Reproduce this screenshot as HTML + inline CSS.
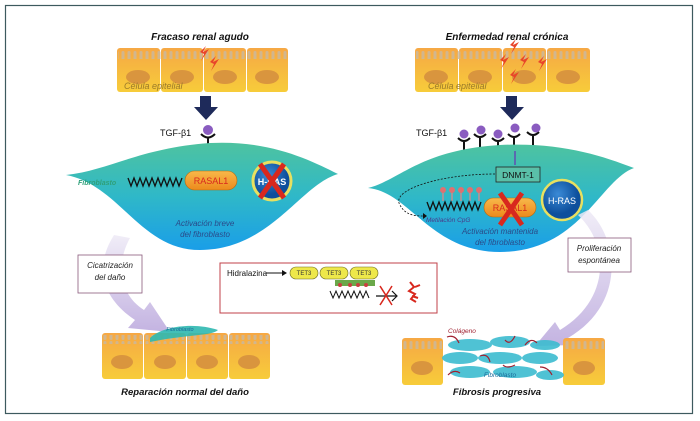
<!DOCTYPE html>
<html><head><meta charset="utf-8"><style>
html,body{margin:0;padding:0;background:#fff;}
svg{display:block;font-family:"Liberation Sans",sans-serif;}
</style></head><body>
<svg width="700" height="421" viewBox="0 0 700 421" xmlns="http://www.w3.org/2000/svg">
<defs>
<linearGradient id="cell" x1="0" y1="0" x2="0" y2="1"><stop offset="0" stop-color="#f6a845"/><stop offset="1" stop-color="#f7cc3a"/></linearGradient>
<linearGradient id="leaf" x1="0" y1="0" x2="0" y2="1"><stop offset="0" stop-color="#4ec3a0"/><stop offset="0.5" stop-color="#2fb8c8"/><stop offset="1" stop-color="#1a9ee8"/></linearGradient>
<linearGradient id="purp" x1="0" y1="0" x2="0" y2="1"><stop offset="0" stop-color="#eeeaf6"/><stop offset="1" stop-color="#b9a6dc"/></linearGradient>
<radialGradient id="hras" cx="0.4" cy="0.35"><stop offset="0" stop-color="#3a8ad6"/><stop offset="1" stop-color="#0d4f9c"/></radialGradient>
<linearGradient id="pill" x1="0" y1="0" x2="0" y2="1"><stop offset="0" stop-color="#f8b84a"/><stop offset="1" stop-color="#ec8a1c"/></linearGradient>
<pattern id="mv" x="0" y="0" width="6" height="10" patternUnits="userSpaceOnUse"><rect x="1.5" y="1" width="3" height="9" rx="1.5" fill="#c9b8a0"/></pattern>
</defs>
<rect x="5.5" y="5.5" width="687" height="408" fill="#fff" stroke="#3d5a5e" stroke-width="1.2"/>

<text x="200" y="40" font-size="10" font-weight="bold" font-style="italic" text-anchor="middle" fill="#111">Fracaso renal agudo</text>
<text x="507" y="40" font-size="10" font-weight="bold" font-style="italic" text-anchor="middle" fill="#111">Enfermedad renal crónica</text>

<!-- left epithelium -->
<g>
<rect x="117" y="48" width="43" height="44" rx="3" fill="url(#cell)"/>
<rect x="161" y="48" width="42" height="44" rx="3" fill="url(#cell)"/>
<rect x="204" y="48" width="42" height="44" rx="3" fill="url(#cell)"/>
<rect x="247" y="48" width="41" height="44" rx="3" fill="url(#cell)"/>
<rect x="118" y="50" width="169" height="9" fill="url(#mv)" opacity="0.8"/>
<ellipse cx="138" cy="77" rx="12" ry="7" fill="#d9953e"/><ellipse cx="182" cy="77" rx="12" ry="7" fill="#d9953e"/><ellipse cx="225" cy="77" rx="12" ry="7" fill="#d9953e"/><ellipse cx="267" cy="77" rx="12" ry="7" fill="#d9953e"/>
<path d="M200 52 l6 -6 l-3 6 l6 -3 l-8 12 l3 -7 z" fill="#e8452a"/><path d="M210 62 l6 -6 l-3 6 l6 -3 l-8 12 l3 -7 z" fill="#e8452a"/>
<text x="124" y="89" font-size="9" font-style="italic" fill="#9a7a2a">Célula epitelial</text>
</g>
<!-- right epithelium -->
<g>
<rect x="415" y="48" width="43" height="44" rx="3" fill="url(#cell)"/>
<rect x="459" y="48" width="43" height="44" rx="3" fill="url(#cell)"/>
<rect x="503" y="48" width="43" height="44" rx="3" fill="url(#cell)"/>
<rect x="547" y="48" width="43" height="44" rx="3" fill="url(#cell)"/>
<rect x="416" y="50" width="173" height="9" fill="url(#mv)" opacity="0.8"/>
<ellipse cx="436" cy="77" rx="12" ry="7" fill="#d9953e"/><ellipse cx="480" cy="77" rx="12" ry="7" fill="#d9953e"/><ellipse cx="524" cy="77" rx="12" ry="7" fill="#d9953e"/><ellipse cx="568" cy="77" rx="12" ry="7" fill="#d9953e"/>
<path d="M510 45 l6 -6 l-3 6 l6 -3 l-8 12 l3 -7 z" fill="#e8452a"/><path d="M500 60 l6 -6 l-3 6 l6 -3 l-8 12 l3 -7 z" fill="#e8452a"/><path d="M520 60 l6 -6 l-3 6 l6 -3 l-8 12 l3 -7 z" fill="#e8452a"/><path d="M538 62 l6 -6 l-3 6 l6 -3 l-8 12 l3 -7 z" fill="#e8452a"/><path d="M510 75 l6 -6 l-3 6 l6 -3 l-8 12 l3 -7 z" fill="#e8452a"/>
<text x="428" y="89" font-size="9" font-style="italic" fill="#9a7a2a">Célula epitelial</text>
</g>

<path d="M200 96 h11 v11 h7 l-12 13 l-12 -13 h6 z" fill="#1e2a5a"/>
<path d="M506 96 h11 v11 h7 l-12 13 l-12 -13 h6 z" fill="#1e2a5a"/>

<text x="160" y="136" font-size="9" fill="#111">TGF-β1</text>
<circle cx="208" cy="130" r="5" fill="#8a5cc0"/>
<path d="M201 134 q7 7 14 0 M208 138 v8" stroke="#111" stroke-width="2" fill="none"/>

<text x="416" y="136" font-size="9" fill="#111">TGF-β1</text>
<g stroke="#111" stroke-width="2" fill="none">
<path d="M458 138 q6 6 12 0 M464 141 v9"/><path d="M474 134 q6 6 12 0 M480 137 v13"/><path d="M492 138 q6 6 12 0 M498 141 v9"/><path d="M508 134 q6 6 12 0 M514 137 v12"/><path d="M527 132 q6 6 12 0 M533 135 v14"/>
</g>
<g fill="#8a5cc0"><circle cx="464" cy="134" r="4.5"/><circle cx="481" cy="130" r="4.5"/><circle cx="498" cy="134" r="4.5"/><circle cx="515" cy="128" r="4.5"/><circle cx="536" cy="128" r="4.5"/></g>

<!-- left leaf -->
<path d="M66 175 C110 170 140 148 210 143 C270 140 310 160 338 174 C300 185 270 250 200 250 C140 250 120 185 66 175 Z" fill="url(#leaf)"/>
<text x="78" y="185" font-size="7" font-weight="bold" font-style="italic" fill="#2fa07a">Fibroblasto</text>
<path d="M128 178 l3 8 l3 -8 l3 8 l3 -8 l3 8 l3 -8 l3 8 l3 -8 l3 8 l3 -8 l3 8 l3 -8 l3 8 l3 -8 l3 8 l3 -8 l3 8 l3 -8" stroke="#111" stroke-width="1.3" fill="none"/>
<rect x="185" y="171" width="52" height="19" rx="9.5" fill="url(#pill)" stroke="#b36a10" stroke-width="0.6"/>
<text x="211" y="184" font-size="9" fill="#d8281e" text-anchor="middle">RASAL1</text>
<circle cx="272" cy="181" r="19" fill="url(#hras)" stroke="#e8e060" stroke-width="3"/>
<text x="272" y="185" font-size="9" fill="#fff" text-anchor="middle" font-weight="bold">H-RAS</text>
<path d="M260 164 L284 198 M284 164 L260 198" stroke="#d8281e" stroke-width="5"/>
<text x="205" y="226" font-size="8" font-style="italic" fill="#2a4a8a" text-anchor="middle">Activación breve</text>
<text x="205" y="237" font-size="8" font-style="italic" fill="#2a4a8a" text-anchor="middle">del fibroblasto</text>

<!-- right leaf -->
<path d="M368 188 C400 180 420 150 500 145 C560 142 600 155 634 168 C600 180 580 252 500 252 C430 252 410 192 368 188 Z" fill="url(#leaf)"/>
<path d="M515 151 v14" stroke="#5a6ab0" stroke-width="2"/>
<rect x="496" y="167" width="44" height="15" fill="#5ac0a8" stroke="#222" stroke-width="0.8"/>
<text x="518" y="178" font-size="8.5" fill="#111" text-anchor="middle">DNMT-1</text>
<path d="M495 174 C440 174 390 190 400 205 C405 215 415 216 423 216" stroke="#111" stroke-width="0.8" stroke-dasharray="2,1.5" fill="none"/>
<path d="M423 213 l4 3 l-4 3 z" fill="#111"/>
<g stroke="#d88a8a" stroke-width="1.3"><path d="M443 191 v10 M452 191 v10 M461 191 v10 M470 191 v10 M479 191 v10"/></g>
<g fill="#e07070"><circle cx="443" cy="190" r="3"/><circle cx="452" cy="190" r="3"/><circle cx="461" cy="190" r="3"/><circle cx="470" cy="190" r="3"/><circle cx="479" cy="190" r="3"/></g>
<path d="M427 202 l3 8 l3 -8 l3 8 l3 -8 l3 8 l3 -8 l3 8 l3 -8 l3 8 l3 -8 l3 8 l3 -8 l3 8 l3 -8 l3 8 l3 -8 l3 8 l3 -8" stroke="#111" stroke-width="1.3" fill="none"/>
<text x="426" y="222" font-size="6.5" font-style="italic" fill="#4a3a8a">Metilación CpG</text>
<rect x="484" y="198" width="52" height="19" rx="9.5" fill="url(#pill)" stroke="#b36a10" stroke-width="0.6"/>
<text x="510" y="211" font-size="9" fill="#d8281e" text-anchor="middle">RASAL1</text>
<path d="M500 193 L522 225 M522 193 L500 225" stroke="#d8281e" stroke-width="5"/>
<circle cx="562" cy="200" r="20" fill="url(#hras)" stroke="#e8e060" stroke-width="2.5"/>
<text x="562" y="204" font-size="9" fill="#fff" text-anchor="middle">H-RAS</text>
<text x="500" y="234" font-size="8" font-style="italic" fill="#2a4a8a" text-anchor="middle">Activación mantenida</text>
<text x="500" y="245" font-size="8" font-style="italic" fill="#2a4a8a" text-anchor="middle">del fibroblasto</text>

<path d="M114 235 C92 270 105 300 135 320 L128 328 L170 332 L150 302 L144 310 C120 295 115 265 130 238 Z" fill="url(#purp)" opacity="0.85"/>
<rect x="78" y="255" width="64" height="38" fill="#fff" stroke="#8a5a7a" stroke-width="0.8"/>
<text x="110" y="268" font-size="8" font-style="italic" fill="#222" text-anchor="middle">Cicatrización</text>
<text x="110" y="280" font-size="8" font-style="italic" fill="#222" text-anchor="middle">del daño</text>

<path d="M578 215 C610 245 610 300 560 330 L555 322 L535 346 L575 345 L568 338 C625 305 620 240 588 210 Z" fill="url(#purp)" opacity="0.85"/>
<rect x="568" y="238" width="63" height="34" fill="#fff" stroke="#8a5a7a" stroke-width="0.8"/>
<text x="599" y="251" font-size="8" font-style="italic" fill="#222" text-anchor="middle">Proliferación</text>
<text x="599" y="263" font-size="8" font-style="italic" fill="#222" text-anchor="middle">espontánea</text>

<rect x="220" y="263" width="217" height="50" fill="#fff" stroke="#c0404a" stroke-width="1"/>
<text x="227" y="276" font-size="8" fill="#111">Hidralazina</text>
<path d="M266 273 h16" stroke="#111" stroke-width="1"/><path d="M282 270 l5 3 l-5 3 z" fill="#111"/>
<g fill="#eee84a" stroke="#6a6a20" stroke-width="0.6">
<rect x="290" y="267" width="28" height="12" rx="6"/><rect x="320" y="267" width="28" height="12" rx="6"/><rect x="350" y="267" width="28" height="12" rx="6"/></g>
<g font-size="6" text-anchor="middle" fill="#333"><text x="304" y="275">TET3</text><text x="334" y="275">TET3</text><text x="364" y="275">TET3</text></g>
<g fill="#6aa84a"><rect x="335" y="280" width="40" height="6"/></g>
<g fill="#c84040"><circle cx="340" cy="285" r="2"/><circle cx="350" cy="285" r="2"/><circle cx="358" cy="285" r="2"/><circle cx="366" cy="285" r="2"/></g>
<path d="M330 291 l3 7 l3 -7 l3 7 l3 -7 l3 7 l3 -7 l3 7 l3 -7 l3 7 l3 -7 l3 7 l3 -7 l3 7" stroke="#111" stroke-width="1" fill="none"/>
<path d="M376 296 h20" stroke="#111" stroke-width="1.2"/><path d="M392 291 l5 5 l-5 5" stroke="#111" stroke-width="1.2" fill="none"/>
<path d="M380 286 L392 305 M392 286 L380 305" stroke="#d8281e" stroke-width="1.5"/>
<path d="M410 282 l4 5 l-5 4 l6 3 l-4 5 l5 3 M415 287 l5 -2 M412 296 l6 2" stroke="#d8281e" stroke-width="2" fill="none"/>

<!-- bottom left cells -->
<g>
<rect x="102" y="333" width="41" height="46" rx="3" fill="url(#cell)"/>
<rect x="144" y="333" width="42" height="46" rx="3" fill="url(#cell)"/>
<rect x="187" y="333" width="41" height="46" rx="3" fill="url(#cell)"/>
<rect x="229" y="333" width="41" height="46" rx="3" fill="url(#cell)"/>
<rect x="103" y="335" width="166" height="9" fill="url(#mv)" opacity="0.8"/>
<ellipse cx="122" cy="362" rx="11" ry="7" fill="#d9953e"/><ellipse cx="165" cy="362" rx="11" ry="7" fill="#d9953e"/><ellipse cx="207" cy="362" rx="11" ry="7" fill="#d9953e"/><ellipse cx="249" cy="362" rx="11" ry="7" fill="#d9953e"/>
<path d="M150 338 C162 326 195 322 218 330 C212 336 190 334 150 342 Z" fill="#2fb8b0" opacity="0.9"/>
<text x="180" y="331" font-size="5.5" font-style="italic" fill="#1a6a9a" text-anchor="middle">Fibroblasto</text>
</g>
<text x="185" y="395" font-size="9.5" font-weight="bold" font-style="italic" fill="#111" text-anchor="middle">Reparación normal del daño</text>

<!-- bottom right -->
<rect x="402" y="338" width="41" height="47" rx="3" fill="url(#cell)"/>
<rect x="563" y="338" width="42" height="47" rx="3" fill="url(#cell)"/>
<rect x="403" y="340" width="39" height="9" fill="url(#mv)" opacity="0.8"/>
<rect x="564" y="340" width="40" height="9" fill="url(#mv)" opacity="0.8"/>
<ellipse cx="422" cy="368" rx="11" ry="7" fill="#d9953e"/><ellipse cx="584" cy="368" rx="11" ry="7" fill="#d9953e"/>
<g fill="#3cbcd0" opacity="0.9">
<ellipse cx="470" cy="345" rx="22" ry="6"/><ellipse cx="510" cy="342" rx="20" ry="6"/><ellipse cx="545" cy="345" rx="15" ry="5"/>
<ellipse cx="460" cy="358" rx="18" ry="6"/><ellipse cx="500" cy="358" rx="22" ry="6"/><ellipse cx="540" cy="358" rx="18" ry="6"/>
<ellipse cx="470" cy="372" rx="20" ry="6"/><ellipse cx="515" cy="372" rx="22" ry="6"/><ellipse cx="550" cy="375" rx="14" ry="5"/>
</g>
<g stroke="#a02030" stroke-width="1.2" fill="none">
<path d="M447 337 q8 -3 12 6"/><path d="M505 340 q5 6 10 -4"/><path d="M525 345 q6 -8 12 -2"/><path d="M480 356 q8 -3 10 6"/><path d="M448 375 q6 -6 12 -2"/><path d="M540 367 q8 0 12 8"/><path d="M515 365 q-8 4 -12 0"/>
</g>
<text x="448" y="333" font-size="6.5" font-style="italic" fill="#a02030">Colágeno</text>
<text x="500" y="377" font-size="6.5" font-style="italic" fill="#1a6a9a" text-anchor="middle">Fibroblasto</text>
<text x="497" y="395" font-size="9.5" font-weight="bold" font-style="italic" fill="#111" text-anchor="middle">Fibrosis progresiva</text>
</svg>
</body></html>
